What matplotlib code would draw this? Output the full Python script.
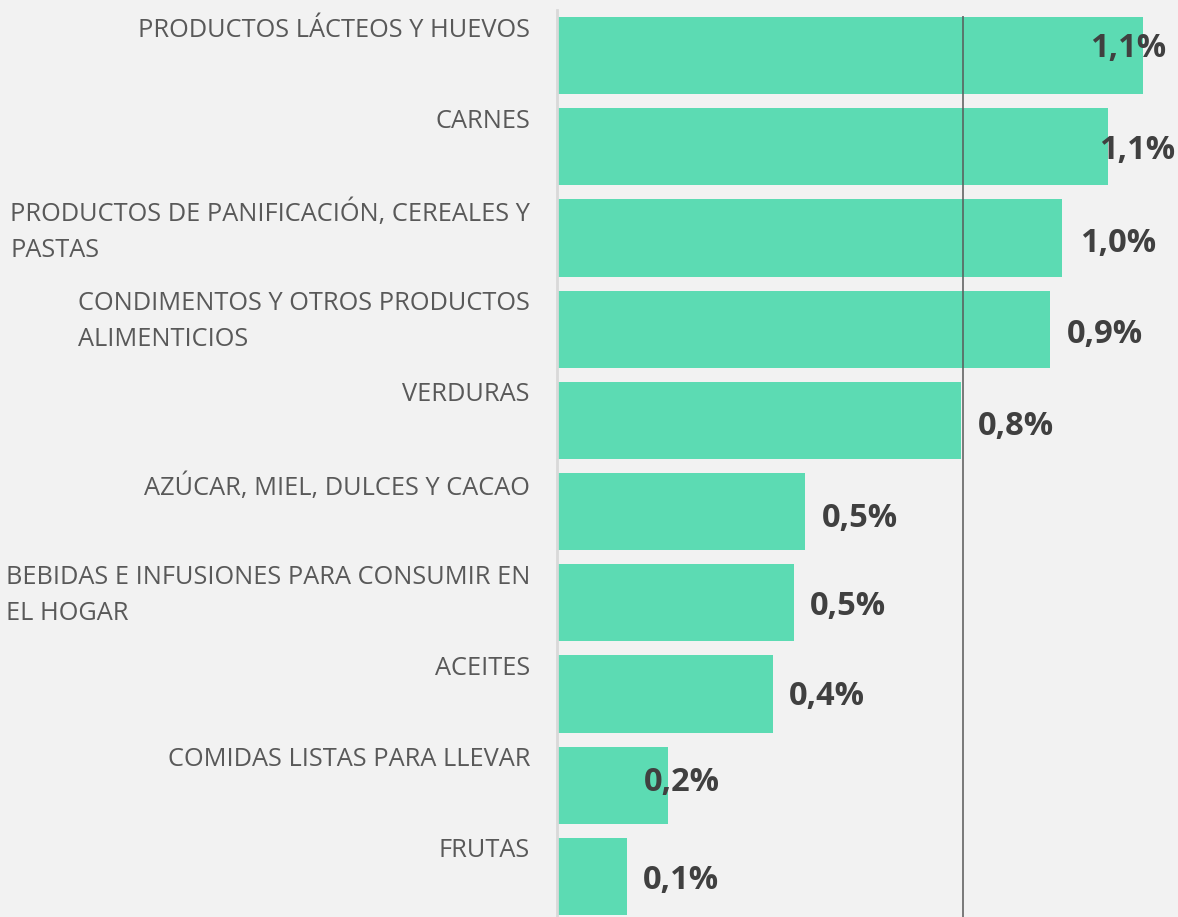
import matplotlib
matplotlib.use("Agg")
import matplotlib.pyplot as plt

# datos (variación %)
categorias = [
    "PRODUCTOS LÁCTEOS Y HUEVOS",
    "CARNES",
    "PRODUCTOS DE PANIFICACIÓN, CEREALES Y\nPASTAS",
    "CONDIMENTOS Y OTROS PRODUCTOS\nALIMENTICIOS",
    "VERDURAS",
    "AZÚCAR, MIEL, DULCES Y CACAO",
    "BEBIDAS E INFUSIONES PARA CONSUMIR EN\nEL HOGAR",
    "ACEITES",
    "COMIDAS LISTAS PARA LLEVAR",
    "FRUTAS",
]
valores = [1.123, 1.056, 0.967, 0.944, 0.774, 0.476, 0.454, 0.414, 0.213, 0.134]
promedio = 0.778

# ajuste de etiquetas (px) respecto al extremo de la barra
dx_px = [-53, -9, 18, 17, 17, 16, 16, 16, -24, 16]
dy_px = [-7, 4, 5, 5, 6, 7, 4, 3, -3, 4]

BG = "#f2f2f2"
VERDE = "#5cdbb3"

plt.rcParams['font.family'] = ['Open Sans', 'DejaVu Sans']

fig = plt.figure(figsize=(11.78, 9.17), dpi=100, facecolor=BG)
W, H = 1178, 917
ax = fig.add_axes([557 / W, -5 / H, 621 / W, 912 / H])
ax.set_facecolor(BG)

y = list(range(len(valores)))
ax.barh(y, valores, height=0.845, color=VERDE, zorder=2)
ax.set_ylim(len(valores) - 0.5, -0.5)
ax.set_xlim(0, 621 / 522)

ax.vlines(promedio, -0.5 + 6 / 91.2, len(valores) - 0.5, color="#595959", lw=1.1, zorder=3)

for s in ["top", "right", "bottom"]:
    ax.spines[s].set_visible(False)
ax.spines["left"].set_color("#d9d9d9")
ax.spines["left"].set_linewidth(2)
ax.spines["left"].set_bounds(len(valores) - 0.5, -0.5 - 0.5 / 91.2)
ax.set_xticks([])
ax.set_yticks([])

for i, (cat, v) in enumerate(zip(categorias, valores)):
    # nombre de la categoría
    ax.annotate(cat, xy=(0, i - 0.4225), xycoords="data",
                xytext=(-27 * 0.72, -0.5 * 0.72), textcoords="offset points",
                ha="right", va="top", multialignment="left",
                fontsize=18.3, color="#595959", linespacing=1.58)
    # etiqueta de valor
    txt = f"{v:.1f}".replace(".", ",") + "%"
    ax.annotate(txt, xy=(v, i), xycoords="data",
                xytext=(dx_px[i] * 0.72, -dy_px[i] * 0.72), textcoords="offset points",
                ha="left", va="center", fontsize=23.5, fontweight="bold",
                color="#404040", zorder=4)

fig.savefig("out.png", dpi=100, facecolor=BG)
